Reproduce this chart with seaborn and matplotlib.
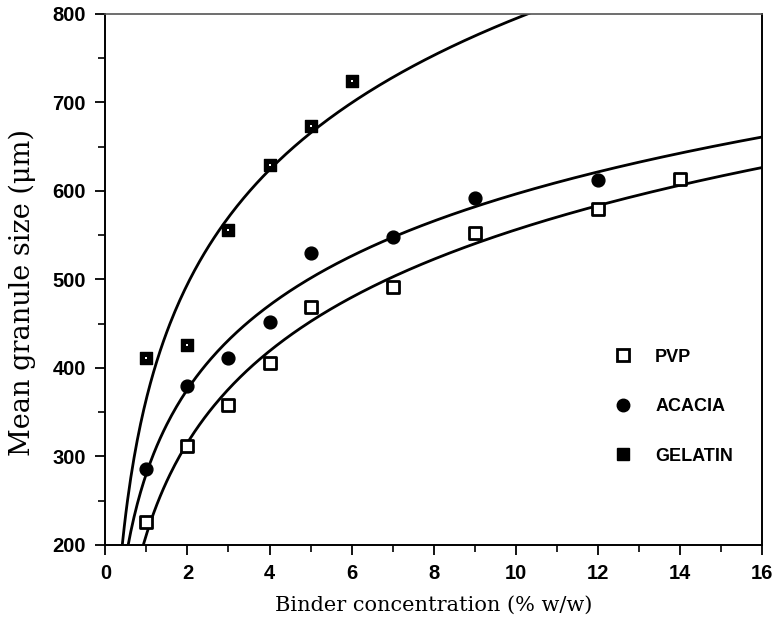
import numpy as np
import pandas as pd
import seaborn as sns
import matplotlib
matplotlib.use("Agg")
import matplotlib.pyplot as plt
from matplotlib.ticker import MultipleLocator
from matplotlib.lines import Line2D

# ---- data ----
binders = ["PVP", "ACACIA", "GELATIN"]
pvp_conc = [1, 2, 3, 4, 5, 7, 9, 12, 14]
pvp_size = [226, 312, 358, 405, 469, 491, 552, 580, 614]
acacia_conc = [1, 2, 3, 4, 5, 7, 9, 12]
acacia_size = [286, 380, 411, 452, 530, 548, 592, 612]
gelatin_conc = [1, 2, 3, 4, 5, 6]
gelatin_size = [411, 426, 556, 629, 673, 724]
x_ticks = [0, 2, 4, 6, 8, 10, 12, 14, 16]
y_ticks = [200, 300, 400, 500, 600, 700, 800]

sns.set_theme(style="ticks")
plt.rcParams["font.family"] = ["Liberation Sans", "DejaVu Sans"]
plt.rcParams["text.color"] = "black"
plt.rcParams["axes.labelcolor"] = "black"
plt.rcParams["xtick.color"] = "black"
plt.rcParams["ytick.color"] = "black"

fig = plt.figure(figsize=(7.75, 6.35), dpi=100)
ax = fig.add_axes([0.136, 0.142, 0.847, 0.836])

series = {
    "PVP": (pvp_conc, pvp_size),
    "ACACIA": (acacia_conc, acacia_size),
    "GELATIN": (gelatin_conc, gelatin_size),
}

# logarithmic fit lines computed from the data
grid = np.linspace(0.3, 16.2, 400)
for name, (xc, ys) in series.items():
    b, a = np.polyfit(np.log(np.array(xc, float)), np.array(ys, float), 1)
    fit = pd.DataFrame({"x": grid, "y": a + b * np.log(grid)})
    sns.lineplot(data=fit, x="x", y="y", ax=ax, color="black", lw=2.0,
                 legend=False, zorder=2)

styles = {
    "PVP": dict(marker="s", s=65, facecolor="white", edgecolor="black", linewidth=2.0),
    "ACACIA": dict(marker="o", s=85, facecolor="black", edgecolor="black", linewidth=1.0),
    "GELATIN": dict(marker="s", s=85, facecolor="black", edgecolor="black", linewidth=1.0),
}
for name, (xc, ys) in series.items():
    df = pd.DataFrame({"x": xc, "y": ys})
    sns.scatterplot(data=df, x="x", y="y", ax=ax, zorder=3, legend=False,
                    **styles[name])
# tiny white mark inside gelatin squares
sns.scatterplot(data=pd.DataFrame({"x": gelatin_conc, "y": gelatin_size}),
                x="x", y="y", ax=ax, marker="s", s=2.5, color="white",
                linewidth=0, zorder=4, legend=False)

ax.set_xlim(0, 16)
ax.set_ylim(200, 800)
ax.set_xticks(x_ticks)
ax.set_yticks(y_ticks)
ax.xaxis.set_minor_locator(MultipleLocator(1))
ax.yaxis.set_minor_locator(MultipleLocator(50))
ax.tick_params(axis="both", which="major", direction="out", length=7, width=1.3,
               labelsize=14.5, colors="black", pad=7)
ax.tick_params(axis="both", which="minor", direction="out", length=5, width=1.2)
for lab in ax.get_xticklabels() + ax.get_yticklabels():
    lab.set_fontweight("bold")
for side in ["left", "bottom", "right"]:
    ax.spines[side].set_linewidth(1.4)
    ax.spines[side].set_color("black")
ax.spines["top"].set_linewidth(1.2)
ax.spines["top"].set_color("#555555")

serif = ["DejaVu Serif", "Liberation Serif"]
ax.set_xlabel("Binder concentration (% w/w)", family=serif, fontsize=15,
              labelpad=9, color="black")
ax.set_ylabel("Mean granule size (μm)", family=serif, fontsize=19.5, color="black")
ax.yaxis.set_label_coords(-0.106, 0.475)

handles = [
    Line2D([], [], ls="none", marker="s", ms=8, mfc="white", mec="black", mew=2.0),
    Line2D([], [], ls="none", marker="o", ms=9, mfc="black", mec="black"),
    Line2D([], [], ls="none", marker="s", ms=9, mfc="black", mec="black"),
]
leg = ax.legend(handles, binders, loc="upper left", bbox_to_anchor=(0.737, 0.40),
                frameon=False, labelspacing=1.8, handletextpad=0.75,
                labelcolor="black",
                prop={"family": ["Liberation Sans Narrow", "Liberation Sans"],
                      "size": 13, "weight": "bold"})

fig.savefig("out.png", dpi=100, facecolor="white")
